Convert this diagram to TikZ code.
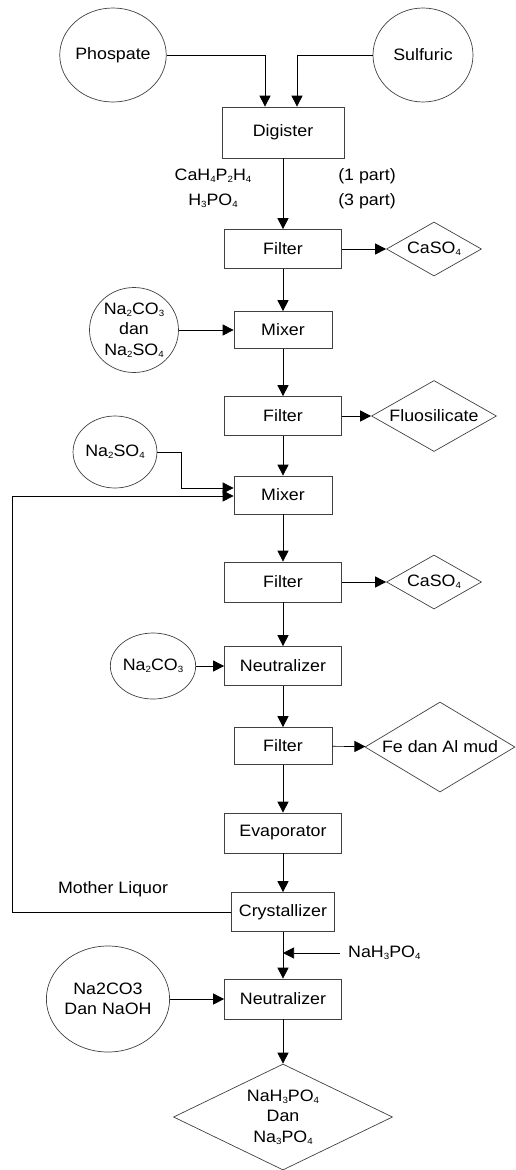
\documentclass[tikz,border=0pt]{standalone}
\usepackage{fontspec}
\setmainfont{Liberation Sans}[FakeStretch=1.08]
\usetikzlibrary{arrows.meta,shapes.geometric}
\newcommand{\sbs}[1]{\raisebox{-0.2ex}{\fontsize{9}{9}\selectfont #1}}
\begin{document}
\begin{tikzpicture}[x=1pt,y=-1pt,
  every node/.style={font=\fontsize{16.5}{20.5}\selectfont, align=center},
  box/.style={draw=black!75, line width=0.7pt, rectangle, inner sep=0pt},
  src/.style={draw=black!75, line width=0.7pt, ellipse, inner sep=0pt},
  prod/.style={draw=black!75, line width=0.7pt, diamond, inner sep=0pt},
  arr/.style={draw=black, line width=0.7pt, -{Triangle[length=11pt,width=11pt]}}]
\useasboundingbox (0,0) rectangle (516,1170);
% nodes
\node[src, minimum width=100pt, minimum height=94pt] (phos) at (113,55) {Phospate};
\node[src, minimum width=100pt, minimum height=94pt] (sulf) at (423,55) {Sulfuric};
\node[box, minimum width=122pt, minimum height=51pt] (dig) at (283,132.5) {Digister};
\node (l1) at (213,176) {CaH\sbs{4}P\sbs{2}H\sbs{4}};
\node (l2) at (213,201) {H\sbs{3}PO\sbs{4}};
\node (l3) at (367,176) {(1 part)};
\node (l4) at (367,201) {(3 part)};
\node[box, minimum width=117pt, minimum height=39pt] (f1) at (283,249) {Filter};
\node[prod, aspect=1.76, minimum width=95pt, minimum height=54pt] (c1) at (434,249) {CaSO\sbs{4}};
\node[box, minimum width=98pt, minimum height=37pt] (m1) at (283,330) {Mixer};
\node[src, minimum width=89pt, minimum height=85pt] (s3) at (134,330) {Na\sbs{2}CO\sbs{3}\\dan\\Na\sbs{2}SO\sbs{4}};
\node[box, minimum width=117pt, minimum height=39pt] (f2) at (283,416) {Filter};
\node[prod, aspect=1.76, minimum width=125pt, minimum height=71pt] (fl) at (434,416) {Fluosilicate};
\node[src, minimum width=76pt, minimum height=72pt] (s4) at (115,452) {Na\sbs{2}SO\sbs{4}};
\node[box, minimum width=98pt, minimum height=38pt] (m2) at (283,495) {Mixer};
\node[box, minimum width=117pt, minimum height=40pt] (f3) at (283,582) {Filter};
\node[prod, aspect=1.76, minimum width=95pt, minimum height=54pt] (c2) at (434,582) {CaSO\sbs{4}};
\node[box, minimum width=117pt, minimum height=39pt] (n1) at (283,666) {Neutralizer};
\node[src, minimum width=70pt, minimum height=66pt] (s5) at (153,666) {Na\sbs{2}CO\sbs{3}};
\node[box, minimum width=98pt, minimum height=37pt] (f4) at (283,746) {Filter};
\node[prod, aspect=1.67, minimum width=150pt, minimum height=90pt] (fe) at (440,747) {Fe dan Al mud};
\node[box, minimum width=117pt, minimum height=40pt] (ev) at (283,833) {Evaporator};
\node[box, minimum width=103pt, minimum height=39pt] (cr) at (283,912) {Crystallizer};
\node (ml) at (113,889) {Mother Liquor};
\node[box, minimum width=117pt, minimum height=40pt] (n2) at (283,999) {Neutralizer};
\node[src, minimum width=112pt, minimum height=106pt] (s6) at (108,999) {Na2CO3\\Dan NaOH};
\node[prod, aspect=2.07, minimum width=219pt, minimum height=106pt] (out) at (283,1117) {NaH\sbs{3}PO\sbs{4}\\Dan\\Na\sbs{3}PO\sbs{4}};
\node[anchor=west, inner sep=0pt] (nah) at (340,953) {\hspace{8pt}NaH\sbs{3}PO\sbs{4}};
\coordinate (j) at (283,953);
\coordinate (ml1) at (12,912);
\coordinate (ml2) at (12,496);
% connectors
\draw[arr] (phos.east) -| ([xshift=-18pt]dig.north);
\draw[arr] (sulf.west) -| ([xshift=14pt]dig.north);
\draw[arr] (dig) -- (f1);
\draw[arr] (f1) -- (c1);
\draw[arr] (f1) -- (m1);
\draw[arr] (s3) -- (m1);
\draw[arr] (m1) -- (f2);
\draw[arr] (f2) -- (fl);
\draw[arr] (f2) -- (m2);
\draw[arr] (s4.east) -- ++(24,0) |- ([yshift=7pt]m2.west);
\draw[arr] (cr.west) -- (ml1) -- (ml2) -- ([yshift=-1pt]m2.west);
\draw[arr] (m2) -- (f3);
\draw[arr] (f3) -- (c2);
\draw[arr] (f3) -- (n1);
\draw[arr] (s5) -- (n1);
\draw[arr] (n1) -- (f4);
\draw[arr] (f4) -- (fe);
\draw[arr] (f4) -- (ev);
\draw[arr] (ev) -- (cr);
\draw[arr] (cr) -- (n2);
\draw[arr] (nah.west) -- (j);
\draw[arr] (s6) -- (n2);
\draw[arr] (n2) -- (out);
\end{tikzpicture}
\end{document}
